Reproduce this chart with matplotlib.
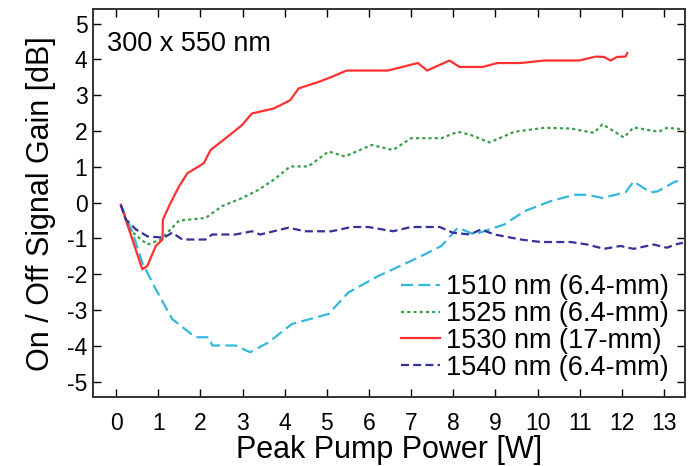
import matplotlib
matplotlib.use("Agg")
import matplotlib.pyplot as plt

# peak pump power [W] and on/off gain [dB]
x_1510 = [0.11, 0.39, 0.62, 0.94, 1.33, 1.88, 2.20, 2.28, 2.83, 3.18, 3.62, 4.17,
          5.04, 5.51, 6.22, 7.16, 7.72, 8.11, 8.50, 9.21, 9.69, 10.31, 10.87,
          11.18, 11.54, 12.09, 12.28, 12.68, 12.84, 13.27, 13.45]
y_1510 = [-0.06, -0.84, -1.68, -2.42, -3.25, -3.76, -3.76, -3.99, -3.99, -4.18,
          -3.90, -3.39, -3.11, -2.51, -2.05, -1.54, -1.21, -0.70, -0.89, -0.61,
          -0.24, 0.04, 0.22, 0.22, 0.13, 0.29, 0.59, 0.29, 0.31, 0.59, 0.62]

x_1525 = [0.11, 0.31, 0.74, 1.06, 1.29, 1.49, 2.12, 2.51, 2.99, 3.38, 3.74, 4.13,
          4.56, 5.04, 5.43, 6.06, 6.57, 7.00, 7.72, 8.11, 8.42, 8.86, 9.45, 10.16,
          10.79, 11.34, 11.54, 12.05, 12.28, 12.88, 13.07, 13.45]
y_1525 = [-0.06, -0.75, -1.17, -1.03, -0.75, -0.50, -0.43, -0.10, 0.13, 0.36,
          0.64, 1.01, 1.01, 1.43, 1.29, 1.61, 1.47, 1.80, 1.80, 1.98, 1.89, 1.68,
          1.98, 2.09, 2.07, 1.95, 2.19, 1.82, 2.10, 1.98, 2.09, 2.05]

x_1530 = [0.11, 0.62, 0.74, 0.94, 1.10, 1.11, 1.29, 1.49, 1.69, 2.08, 2.24, 2.75,
          2.99, 3.22, 3.74, 4.13, 4.33, 4.80, 5.11, 5.47, 6.45, 7.16, 7.38, 7.91,
          8.15, 8.70, 9.05, 9.60, 10.16, 10.99, 11.38, 11.58, 11.73, 11.89, 12.09,
          12.13]
y_1530 = [-0.06, -1.86, -1.77, -1.21, -1.03, -0.47, -0.01, 0.45, 0.82, 1.10, 1.47,
          1.94, 2.17, 2.49, 2.63, 2.86, 3.19, 3.37, 3.51, 3.69, 3.69, 3.90, 3.69,
          3.97, 3.79, 3.79, 3.90, 3.90, 3.97, 3.97, 4.08, 4.07, 3.97, 4.07, 4.08,
          4.18]

x_1540 = [0.11, 0.23, 0.47, 0.74, 1.13, 1.33, 1.57, 2.12, 2.28, 2.83, 3.22, 3.42,
          4.09, 4.48, 5.11, 5.59, 5.98, 6.57, 7.00, 7.68, 7.99, 8.39, 8.66, 8.98,
          9.60, 10.08, 10.79, 11.18, 11.58, 11.97, 12.28, 12.76, 13.07, 13.27, 13.45]
y_1540 = [-0.06, -0.47, -0.75, -0.94, -0.98, -0.84, -1.03, -1.03, -0.89, -0.89,
          -0.80, -0.89, -0.70, -0.80, -0.80, -0.68, -0.68, -0.80, -0.68, -0.68,
          -0.84, -0.89, -0.75, -0.89, -1.03, -1.10, -1.10, -1.17, -1.29, -1.21,
          -1.29, -1.17, -1.26, -1.17, -1.12]

labels = ["1510 nm (6.4-mm)", "1525 nm (6.4-mm)", "1530 nm (17-mm)", "1540 nm (6.4-mm)"]
x_ticks = list(range(0, 14))
y_ticks = list(range(-5, 6))

plt.rcParams['font.family'] = ['Liberation Sans', 'DejaVu Sans']
plt.rcParams['axes.unicode_minus'] = False

fig = plt.figure(figsize=(6.94, 4.66), dpi=100)
ax = fig.add_axes([0.134, 0.148, 0.853, 0.832])

ax.plot(x_1510, y_1510, color="#33b8dc", lw=1.6, dashes=(5.4, 2.4), label=labels[0])
ax.plot(x_1525, y_1525, color="#3a9d4a", lw=1.6, dashes=(1.4, 1.4), label=labels[1])
ax.plot(x_1530, y_1530, color="#ff3030", lw=1.6, label=labels[2])
ax.plot(x_1540, y_1540, color="#35309a", lw=1.6, dashes=(3.6, 1.9), label=labels[3])

ax.set_xlim(-0.55, 13.5)
ax.set_ylim(-5.43, 5.4)
ax.set_xticks(x_ticks)
ax.set_yticks(y_ticks)
ax.tick_params(direction="in", length=6, width=1, labelsize=16.5, top=True, right=True)
ax.tick_params(axis="x", pad=11)
ax.tick_params(axis="y", pad=4)
for s in ax.spines.values():
    s.set_linewidth(1.4)
    s.set_color("#333333")

ax.set_xlabel("Peak Pump Power [W]", fontsize=22, labelpad=0)
ax.set_ylabel("On / Off Signal Gain [dB]", fontsize=22, labelpad=8)
ax.text(0.024, 0.943, "300 x 550 nm", transform=ax.transAxes, fontsize=19.5,
        va="top", ha="left")

leg = ax.legend(loc="lower right", frameon=False, fontsize=19.5, handlelength=1.45,
                handletextpad=0.2, labelspacing=0.03, borderaxespad=0.2)

fig.savefig("out.png", dpi=100)
